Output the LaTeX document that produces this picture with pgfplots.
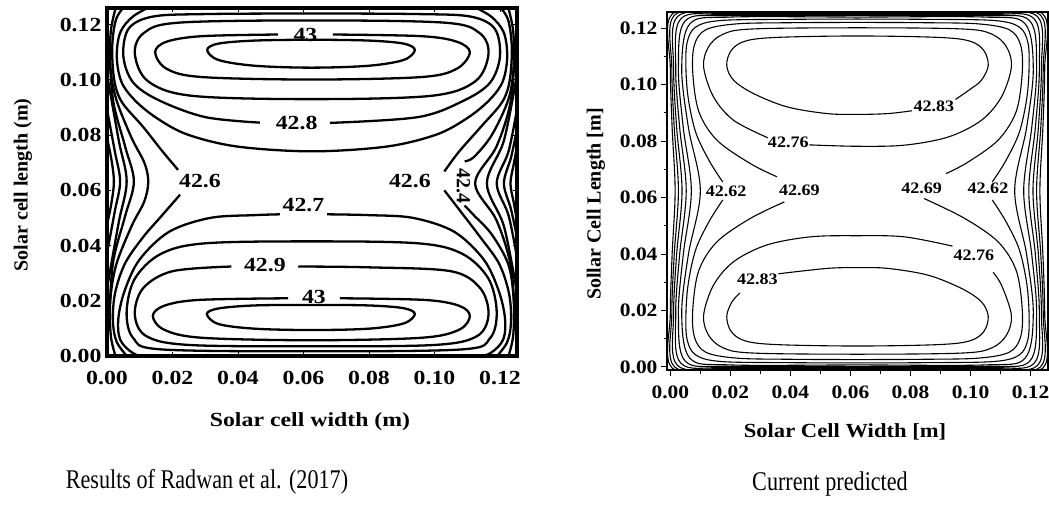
\documentclass[border=0pt]{standalone}
\usepackage{pgfplots}
\pgfplotsset{compat=1.18}
\usepackage{graphicx}
\usepackage{fontspec}
\setmainfont{Liberation Serif}

% fonts for the two panels
\newcommand\lfont{\fontsize{20}{22}\selectfont\bfseries}
\newcommand\rfont{\fontsize{19}{21}\selectfont\bfseries}
\newcommand\clfont{\fontsize{20}{22}\selectfont\bfseries}
\newcommand\crfont{\fontsize{16}{18}\selectfont\bfseries}
\newcommand\capfont{\fontsize{27}{29}\selectfont}
\newcommand\sx[1]{\scalebox{1.19}[1]{#1}}
\newcommand\sy[1]{\scalebox{1.13}[1]{#1}}

\pgfplotsset{
  lc/.style={black, line width=2.3pt, smooth, tension=0.55, no marks},
  rc/.style={black, line width=1.1pt, smooth, tension=0.55, no marks},
}

\begin{document}
\begin{tikzpicture}
\useasboundingbox (0,0) rectangle (1049pt,504pt);

% ---------------- left panel: Radwan et al. (2017) ----------------
\begin{axis}[
  at={(107pt,148pt)}, anchor=south west, scale only axis,
  width=410pt, height=348pt,
  xmin=0, xmax=0.1252, ymin=0, ymax=0.126,
  xtick={0,0.02,0.04,0.06,0.08,0.10,0.12},
  ytick={0,0.02,0.04,0.06,0.08,0.10,0.12},
  xticklabels={\sx{0.00},\sx{0.02},\sx{0.04},\sx{0.06},\sx{0.08},\sx{0.10},\sx{0.12}},
  yticklabels={\sx{0.00},\sx{0.02},\sx{0.04},\sx{0.06},\sx{0.08},\sx{0.10},\sx{0.12}},
  xticklabel style={font=\lfont, yshift=-12pt},
  yticklabel style={font=\lfont, xshift=-2pt},
  tick align=inside, major tick length=4pt,
  tick style={black, line width=0.8pt},
  axis line style={line width=4pt},
  axis on top, clip=true, scaled ticks=false,
]
% upper cell
\addplot[lc, smooth cycle] coordinates {(0.0306,0.1108) (0.0340,0.1131) (0.0450,0.1142) (0.0625,0.1145) (0.0800,0.1142) (0.0906,0.1131) (0.0940,0.1108) (0.0906,0.1072) (0.0800,0.1051) (0.0625,0.1044) (0.0450,0.1051) (0.0340,0.1072)};
\addplot[lc] coordinates {(0.0690,0.1164) (0.0960,0.1158) (0.1068,0.1138) (0.1108,0.1100) (0.1068,0.1040) (0.0960,0.1010) (0.0625,0.1001) (0.0290,0.1010) (0.0182,0.1040) (0.0147,0.1100) (0.0182,0.1138) (0.0290,0.1158) (0.0522,0.1164)};
\addplot[lc, smooth cycle] coordinates {(0.0085,0.1095) (0.0113,0.1170) (0.0220,0.1207) (0.0625,0.1215) (0.1030,0.1207) (0.1137,0.1170) (0.1165,0.1095) (0.1125,0.0995) (0.0990,0.0942) (0.0625,0.0930) (0.0260,0.0942) (0.0125,0.0995)};
\addplot[lc] coordinates {(0.0681,0.0844) (0.0950,0.0865) (0.1090,0.0925) (0.1170,0.0990) (0.1200,0.1085) (0.1184,0.1185) (0.1110,0.1229) (0.0950,0.1238) (0.0625,0.1240) (0.0300,0.1238) (0.0140,0.1229) (0.0066,0.1185) (0.0050,0.1085) (0.0080,0.0990) (0.0160,0.0925) (0.0300,0.0865) (0.0467,0.0845)};
\addplot[lc] coordinates {(0.0150,0.1275) (0.0080,0.1230) (0.0040,0.1170) (0.0030,0.1080) (0.0045,0.0990) (0.0090,0.0920) (0.0160,0.0855) (0.0250,0.0800) (0.0400,0.0758) (0.0626,0.0741) (0.0852,0.0758) (0.1002,0.0800) (0.1092,0.0855) (0.1162,0.0920) (0.1207,0.0990) (0.1222,0.1080) (0.1212,0.1170) (0.1172,0.1230) (0.1102,0.1275)};
% lower cell
\addplot[lc, smooth cycle] coordinates {(0.0305,0.0152) (0.0340,0.0172) (0.0450,0.0183) (0.0625,0.0185) (0.0800,0.0183) (0.0906,0.0173) (0.0940,0.0152) (0.0906,0.0118) (0.0800,0.0099) (0.0625,0.0094) (0.0450,0.0099) (0.0340,0.0116)};
\addplot[lc] coordinates {(0.0711,0.0209) (0.0970,0.0203) (0.1075,0.0182) (0.1108,0.0145) (0.1075,0.0095) (0.0960,0.0066) (0.0625,0.0057) (0.0290,0.0066) (0.0175,0.0095) (0.0140,0.0145) (0.0175,0.0182) (0.0280,0.0203) (0.0553,0.0209)};
\addplot[lc] coordinates {(0.0584,0.0324) (0.0800,0.0321) (0.1050,0.0307) (0.1140,0.0245) (0.1165,0.0150) (0.1130,0.0072) (0.1000,0.0040) (0.0625,0.0035) (0.0250,0.0040) (0.0120,0.0072) (0.0085,0.0150) (0.0110,0.0245) (0.0200,0.0307) (0.0380,0.0324)};
\addplot[lc, smooth cycle] coordinates {(0.0060,0.0160) (0.0085,0.0280) (0.0165,0.0370) (0.0300,0.0408) (0.0625,0.0415) (0.0950,0.0408) (0.1085,0.0370) (0.1165,0.0280) (0.1190,0.0160) (0.1170,0.0065) (0.1085,0.0024) (0.0625,0.0017) (0.0165,0.0024) (0.0080,0.0065)};
\addplot[lc] coordinates {(0.0528,0.0513) (0.0450,0.0510) (0.0315,0.0500) (0.0190,0.0450) (0.0100,0.0350) (0.0055,0.0240) (0.0035,0.0140) (0.0040,0.0060) (0.0080,0.0010) (0.0140,-0.0012)};
\addplot[lc] coordinates {(0.0672,0.0513) (0.0800,0.0510) (0.0935,0.0500) (0.1060,0.0450) (0.1150,0.0350) (0.1195,0.0240) (0.1215,0.0140) (0.1210,0.0060) (0.1170,0.0010) (0.1110,-0.0012)};
% left wall
\addplot[lc] coordinates {(0.0060,0.1275) (0.0028,0.1220) (0.0016,0.1120) (0.0022,0.1000) (0.0045,0.0920) (0.0110,0.0830) (0.0170,0.0740) (0.0217,0.0674)};
\addplot[lc] coordinates {(0.0223,0.0584) (0.0165,0.0505) (0.0110,0.0430) (0.0055,0.0335) (0.0025,0.0230) (0.0018,0.0130) (0.0030,0.0050) (0.0070,-0.0012)};
\addplot[lc] coordinates {(0.0030,0.1275) (0.0012,0.1180) (0.0010,0.1050) (0.0028,0.0930) (0.0075,0.0790) (0.0114,0.0700) (0.0126,0.0632) (0.0114,0.0560) (0.0075,0.0470) (0.0028,0.0330) (0.0010,0.0200) (0.0012,0.0070) (0.0030,-0.0015)};
\addplot[lc] coordinates {(0.0006,0.1150) (0.0018,0.0930) (0.0055,0.0760) (0.0082,0.0632) (0.0055,0.0505) (0.0018,0.0335) (0.0006,0.0110)};
\addplot[lc] coordinates {(0.0003,0.1000) (0.0036,0.0780) (0.0060,0.0632) (0.0036,0.0485) (0.0003,0.0265)};
\addplot[lc] coordinates {(0.0002,0.0880) (0.0024,0.0740) (0.0040,0.0632) (0.0024,0.0525) (0.0002,0.0385)};
\addplot[lc] coordinates {(-0.0002,0.0800) (0.0013,0.0715) (0.0021,0.0632) (0.0013,0.0550) (-0.0002,0.0465)};
% right wall
\addplot[lc] coordinates {(0.1192,0.1275) (0.1224,0.1220) (0.1236,0.1120) (0.1230,0.1000) (0.1207,0.0920) (0.1142,0.0830) (0.1075,0.0740) (0.1030,0.0668)};
\addplot[lc] coordinates {(0.1030,0.0600) (0.1082,0.0520) (0.1140,0.0430) (0.1197,0.0335) (0.1227,0.0230) (0.1234,0.0130) (0.1222,0.0050) (0.1182,-0.0012)};
\addplot[lc] coordinates {(0.1222,0.1275) (0.1240,0.1180) (0.1242,0.1050) (0.1226,0.0930) (0.1175,0.0800) (0.1120,0.0720) (0.1092,0.0705)};
\addplot[lc] coordinates {(0.1092,0.0545) (0.1120,0.0510) (0.1175,0.0440) (0.1226,0.0330) (0.1242,0.0200) (0.1240,0.0070) (0.1222,-0.0015)};
\addplot[lc] coordinates {(0.1246,0.1150) (0.1234,0.0930) (0.1190,0.0760) (0.1124,0.0625) (0.1190,0.0490) (0.1234,0.0320) (0.1246,0.0110)};
\addplot[lc] coordinates {(0.1249,0.1000) (0.1212,0.0780) (0.1160,0.0625) (0.1212,0.0470) (0.1249,0.0250)};
\addplot[lc] coordinates {(0.1250,0.0880) (0.1226,0.0740) (0.1190,0.0625) (0.1226,0.0510) (0.1250,0.0370)};
\addplot[lc] coordinates {(0.1252,0.0820) (0.1234,0.0720) (0.1212,0.0625) (0.1234,0.0530) (0.1252,0.0430)};
\addplot[lc] coordinates {(0.1255,0.0780) (0.1243,0.0700) (0.1232,0.0625) (0.1243,0.0550) (0.1255,0.0470)};
% level labels
\node[font=\clfont] at (axis cs:0.0606,0.1164) {\sx{43}};
\node[font=\clfont] at (axis cs:0.0579,0.0845) {\sx{42.8}};
\node[font=\clfont] at (axis cs:0.0284,0.0632) {\sx{42.6}};
\node[font=\clfont] at (axis cs:0.0925,0.0632) {\sx{42.6}};
\node[font=\clfont, rotate=-90] at (axis cs:0.1088,0.0617) {42.4};
\node[font=\clfont] at (axis cs:0.0600,0.0545) {\sx{42.7}};
\node[font=\clfont] at (axis cs:0.0482,0.0330) {\sx{42.9}};
\node[font=\clfont] at (axis cs:0.0632,0.0215) {\sx{43}};
\end{axis}
\node[font=\lfont, rotate=90] at (23pt,319pt) {Solar cell length (m)};
\node[font=\lfont] at (310pt,82pt) {\sx{Solar cell width (m)}};

% ---------------- right panel: current prediction ----------------
\begin{axis}[
  at={(667pt,134pt)}, anchor=south west, scale only axis,
  width=381pt, height=358pt,
  xmin=-0.0011, xmax=0.1258, ymin=-0.0011, ymax=0.1258,
  xtick={0,0.02,0.04,0.06,0.08,0.10,0.12},
  ytick={0,0.02,0.04,0.06,0.08,0.10,0.12},
  minor xtick={0.01,0.03,0.05,0.07,0.09,0.11},
  minor ytick={0.01,0.03,0.05,0.07,0.09,0.11},
  xticklabel style={font=\rfont, yshift=-6pt},
  yticklabel style={font=\rfont},
  xticklabels={\sy{0.00},\sy{0.02},\sy{0.04},\sy{0.06},\sy{0.08},\sy{0.10},\sy{0.12}},
  yticklabels={\sy{0.00},\sy{0.02},\sy{0.04},\sy{0.06},\sy{0.08},\sy{0.10},\sy{0.12}},
  tick align=outside, major tick length=6pt, minor tick length=3.5pt,
  xtick pos=bottom, ytick pos=left,
  tick style={black, line width=1pt},
  axis line style={line width=1.3pt},
  axis on top, clip=true, scaled ticks=false,
]
% upper cell
\addplot[rc] coordinates {(0.0950,0.0948) (0.1000,0.0985) (0.1036,0.1016) (0.1059,0.1068) (0.1044,0.1122) (0.0997,0.1155) (0.0892,0.1168) (0.0623,0.1173) (0.0355,0.1168) (0.0250,0.1155) (0.0203,0.1122) (0.0188,0.1068) (0.0211,0.1016) (0.0277,0.0969) (0.0388,0.0922) (0.0521,0.0898) (0.0623,0.0895) (0.0726,0.0898) (0.0805,0.0908)};
\addplot[rc] coordinates {(0.0462,0.0787) (0.0623,0.0782) (0.0780,0.0786) (0.0926,0.0815) (0.1036,0.0874) (0.1103,0.0957) (0.1136,0.1063) (0.1120,0.1134) (0.1070,0.1180) (0.0970,0.1198) (0.0623,0.1202) (0.0277,0.1198) (0.0177,0.1180) (0.0127,0.1134) (0.0111,0.1063) (0.0144,0.0957) (0.0211,0.0874) (0.0325,0.0812)};
% lower cell
\addplot[rc] coordinates {(0.0360,0.0330) (0.0521,0.0349) (0.0623,0.0352) (0.0726,0.0349) (0.0859,0.0325) (0.0970,0.0278) (0.1036,0.0231) (0.1059,0.0179) (0.1044,0.0125) (0.0997,0.0092) (0.0892,0.0079) (0.0623,0.0074) (0.0355,0.0079) (0.0250,0.0092) (0.0203,0.0125) (0.0188,0.0179) (0.0205,0.0230) (0.0232,0.0262)};
\addplot[rc] coordinates {(0.1075,0.0335) (0.1103,0.0290) (0.1136,0.0184) (0.1120,0.0113) (0.1070,0.0067) (0.0970,0.0049) (0.0623,0.0045) (0.0277,0.0049) (0.0177,0.0067) (0.0127,0.0113) (0.0111,0.0184) (0.0144,0.0290) (0.0211,0.0373) (0.0321,0.0432) (0.0467,0.0461) (0.0623,0.0465) (0.0780,0.0461) (0.0940,0.0428)};
% 42.69
\addplot[rc] coordinates {(0.0355,0.0674) (0.0266,0.0721) (0.0155,0.0804) (0.0095,0.0905) (0.0075,0.1040) (0.0080,0.1140) (0.0118,0.1195) (0.0222,0.1216) (0.0400,0.1220) (0.0623,0.1221) (0.0847,0.1220) (0.1025,0.1216) (0.1129,0.1195) (0.1167,0.1140) (0.1172,0.1040) (0.1152,0.0905) (0.1092,0.0804) (0.0990,0.0725) (0.0918,0.0685)};
\addplot[rc] coordinates {(0.0380,0.0585) (0.0266,0.0526) (0.0155,0.0443) (0.0095,0.0342) (0.0075,0.0207) (0.0080,0.0107) (0.0118,0.0052) (0.0222,0.0031) (0.0400,0.0027) (0.0623,0.0026) (0.0847,0.0027) (0.1025,0.0031) (0.1129,0.0052) (0.1167,0.0107) (0.1172,0.0207) (0.1152,0.0342) (0.1092,0.0443) (0.0981,0.0526) (0.0845,0.0597)};
% 42.62
\addplot[rc] coordinates {(0.0175,0.0655) (0.0130,0.0730) (0.0085,0.0830) (0.0060,0.0950) (0.0052,0.1060) (0.0056,0.1150) (0.0085,0.1205) (0.0170,0.1228) (0.0400,0.1232) (0.0623,0.1233) (0.0847,0.1232) (0.1077,0.1228) (0.1162,0.1205) (0.1191,0.1150) (0.1195,0.1060) (0.1187,0.0950) (0.1162,0.0830) (0.1117,0.0730) (0.1072,0.0655)};
\addplot[rc] coordinates {(0.0175,0.0592) (0.0130,0.0517) (0.0085,0.0417) (0.0060,0.0297) (0.0052,0.0187) (0.0056,0.0097) (0.0085,0.0042) (0.0170,0.0019) (0.0400,0.0015) (0.0623,0.0014) (0.0847,0.0015) (0.1077,0.0019) (0.1162,0.0042) (0.1191,0.0097) (0.1195,0.0187) (0.1187,0.0297) (0.1162,0.0417) (0.1117,0.0517) (0.1072,0.0592)};
% outer levels along the walls
\addplot[rc, smooth cycle] coordinates {(0.0100,0.0624) (0.0060,0.0850) (0.0038,0.1060) (0.0066,0.1217) (0.0200,0.1240) (0.0623,0.1240) (0.1047,0.1240) (0.1181,0.1217) (0.1209,0.1060) (0.1187,0.0850) (0.1147,0.0624) (0.1187,0.0397) (0.1209,0.0187) (0.1181,0.0030) (0.1047,0.0007) (0.0623,0.0007) (0.0200,0.0007) (0.0066,0.0030) (0.0038,0.0187) (0.0060,0.0397)};
\addplot[rc, smooth cycle] coordinates {(0.0070,0.0624) (0.0043,0.0850) (0.0027,0.1060) (0.0050,0.1227) (0.0200,0.1245) (0.0623,0.1245) (0.1047,0.1245) (0.1197,0.1227) (0.1220,0.1060) (0.1204,0.0850) (0.1177,0.0624) (0.1204,0.0397) (0.1220,0.0187) (0.1197,0.0020) (0.1047,0.0002) (0.0623,0.0002) (0.0200,0.0002) (0.0050,0.0020) (0.0027,0.0187) (0.0043,0.0397)};
\addplot[rc, smooth cycle] coordinates {(0.0053,0.0624) (0.0031,0.0850) (0.0018,0.1060) (0.0036,0.1235) (0.0200,0.1249) (0.0623,0.1249) (0.1047,0.1249) (0.1211,0.1235) (0.1229,0.1060) (0.1216,0.0850) (0.1194,0.0624) (0.1216,0.0397) (0.1229,0.0187) (0.1211,0.0012) (0.1047,-0.0002) (0.0623,-0.0002) (0.0200,-0.0002) (0.0036,0.0012) (0.0018,0.0187) (0.0031,0.0397)};
\addplot[rc, smooth cycle] coordinates {(0.0039,0.0624) (0.0021,0.0850) (0.0011,0.1060) (0.0024,0.1242) (0.0200,0.1252) (0.0623,0.1252) (0.1047,0.1252) (0.1223,0.1242) (0.1236,0.1060) (0.1226,0.0850) (0.1208,0.0624) (0.1226,0.0397) (0.1236,0.0187) (0.1223,0.0005) (0.1047,-0.0005) (0.0623,-0.0005) (0.0200,-0.0005) (0.0024,0.0005) (0.0011,0.0187) (0.0021,0.0397)};
\addplot[rc, smooth cycle] coordinates {(0.0027,0.0624) (0.0013,0.0850) (0.0005,0.1060) (0.0014,0.1247) (0.0200,0.1254) (0.0623,0.1254) (0.1047,0.1254) (0.1233,0.1247) (0.1242,0.1060) (0.1234,0.0850) (0.1220,0.0624) (0.1234,0.0397) (0.1242,0.0187) (0.1233,0.0000) (0.1047,-0.0007) (0.0623,-0.0007) (0.0200,-0.0007) (0.0014,0.0000) (0.0005,0.0187) (0.0013,0.0397)};
\addplot[rc, smooth cycle] coordinates {(0.0016,0.0624) (0.0006,0.0850) (0.0000,0.1060) (0.0006,0.1251) (0.0200,0.1256) (0.0623,0.1256) (0.1047,0.1256) (0.1241,0.1251) (0.1247,0.1060) (0.1241,0.0850) (0.1231,0.0624) (0.1241,0.0397) (0.1247,0.0187) (0.1241,-0.0004) (0.1047,-0.0009) (0.0623,-0.0009) (0.0200,-0.0009) (0.0006,-0.0004) (0.0000,0.0187) (0.0006,0.0397)};
% level labels
\node[font=\crfont] at (axis cs:0.0878,0.0925) {\sy{42.83}};
\node[font=\crfont] at (axis cs:0.0393,0.0797) {\sy{42.76}};
\node[font=\crfont] at (axis cs:0.0186,0.0624) {\sy{42.62}};
\node[font=\crfont] at (axis cs:0.0430,0.0627) {\sy{42.69}};
\node[font=\crfont] at (axis cs:0.0837,0.0632) {\sy{42.69}};
\node[font=\crfont] at (axis cs:0.1058,0.0632) {\sy{42.62}};
\node[font=\crfont] at (axis cs:0.1011,0.0396) {\sy{42.76}};
\node[font=\crfont] at (axis cs:0.0290,0.0310) {\sy{42.83}};
\end{axis}
\node[font=\lfont, rotate=90] at (596pt,300pt) {Sollar Cell Length [m]};
\node[font=\lfont] at (845pt,72pt) {\sy{Solar Cell Width [m]}};

% captions
\node[font=\capfont] at (207pt,22pt) {\scalebox{0.82}[1]{Results of Radwan et al. (2017)}};
\node[font=\capfont] at (830pt,20pt) {\scalebox{0.82}[1]{Current predicted}};
\end{tikzpicture}
\end{document}
